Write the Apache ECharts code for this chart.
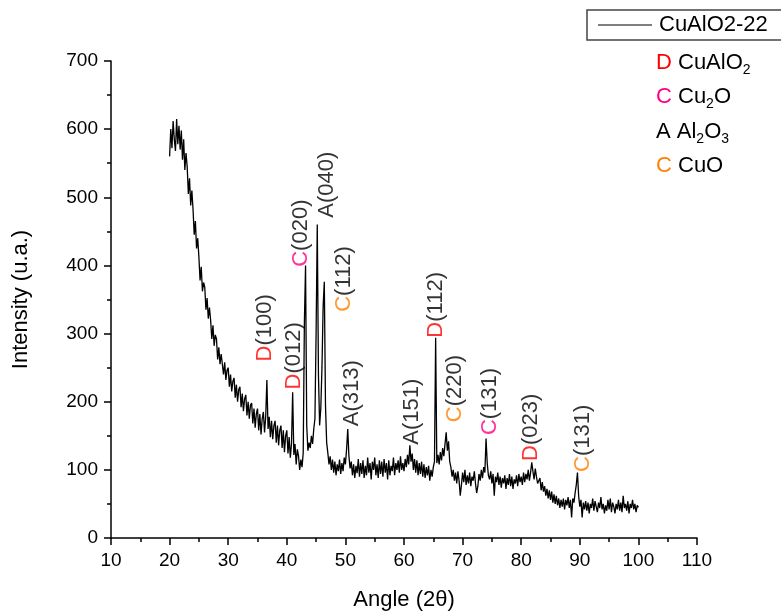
<!DOCTYPE html>
<html>
<head>
<meta charset="utf-8">
<script src="https://cdn.jsdelivr.net/npm/echarts@6/dist/echarts.min.js"></script>
<style>
html,body{margin:0;padding:0;background:#fff;overflow:hidden;}
#chart{width:781px;height:616px;}
</style>
</head>
<body>
<div id="chart"></div>
<script>
// Sampling grid of the measured pattern (degrees 2-theta)
const angleStart = 20;
const angleStep = 0.2;
// Intensity, 5 samples per degree from 20 to 100
const intensity = [
  560, 600, 572, 612, 585,   // 20
  568, 615, 578, 605, 570,   // 21
  598, 555, 585, 540, 565,   // 22
  545, 505, 528, 488, 510,   // 23
  482, 445, 465, 425, 440,   // 24
  412, 378, 398, 362, 375,   // 25
  368, 335, 352, 322, 338,   // 26
  320, 292, 312, 282, 298,   // 27
  292, 262, 280, 255, 270,   // 28
  268, 240, 258, 232, 246,   // 29
  250, 222, 240, 215, 230,   // 30
  235, 206, 225, 200, 218,   // 31
  222, 192, 212, 186, 204,   // 32
  210, 180, 200, 175, 195,   // 33
  198, 168, 190, 162, 182,   // 34
  190, 158, 182, 152, 175,   // 35
  185, 155, 178, 232, 160,   // 36
  178, 148, 172, 145, 165,   // 37
  172, 140, 165, 136, 158,   // 38
  165, 132, 158, 126, 150,   // 39
  158, 124, 148, 118, 138,   // 40
  214, 122, 138, 108, 130,   // 41
  120, 100, 115, 104, 125,   // 42
  316, 400, 165, 128, 140,   // 43
  132, 150, 138, 160, 175,   // 44
  300, 460, 240, 165, 190,   // 45
  250, 340, 376, 195, 140,   // 46
  125, 108, 120, 100, 115,   // 47
  96, 112, 92, 108, 98,      // 48
  115, 94, 110, 98, 118,     // 49
  108, 130, 160, 120, 102,   // 50
  112, 92, 108, 88, 106,     // 51
  95, 116, 90, 110, 94,      // 52
  114, 88, 106, 92, 118,     // 53
  96, 110, 86, 112, 100,     // 54
  118, 92, 108, 88, 114,     // 55
  94, 112, 90, 116, 96,      // 56
  110, 86, 114, 92, 106,     // 57
  98, 118, 92, 110, 100,     // 58
  114, 96, 120, 100, 110,    // 59
  98, 116, 104, 122, 108,    // 60
  136, 112, 124, 100, 116,   // 61
  96, 114, 92, 110, 94,      // 62
  112, 90, 108, 88, 104,     // 63
  92, 106, 84, 100, 90,      // 64
  104, 112, 294, 110, 122,   // 65
  108, 126, 114, 132, 120,   // 66
  138, 155, 128, 142, 112,   // 67
  104, 90, 100, 84, 96,      // 68
  80, 98, 84, 62, 78,        // 69
  96, 82, 100, 78, 92,       // 70
  80, 96, 76, 90, 84,        // 71
  98, 80, 66, 76, 94,        // 72
  84, 100, 88, 104, 96,      // 73
  146, 110, 92, 86, 98,      // 74
  80, 94, 62, 90, 82,        // 75
  96, 78, 90, 74, 88,        // 76
  80, 92, 72, 88, 78,        // 77
  94, 76, 90, 72, 86,        // 78
  80, 92, 76, 94, 82,        // 79
  90, 78, 96, 82, 94,        // 80
  86, 100, 84, 96, 111,      // 81
  98, 86, 102, 90, 80,       // 82
  78, 88, 70, 82, 68,        // 83
  76, 62, 72, 58, 70,        // 84
  56, 68, 52, 64, 50,        // 85
  62, 48, 58, 44, 56,        // 86
  46, 58, 42, 56, 48,        // 87
  60, 44, 56, 30, 58,        // 88
  52, 66, 78, 96, 62,        // 89
  46, 56, 30, 52, 42,        // 90
  54, 40, 52, 36, 50,        // 91
  44, 58, 40, 54, 46,        // 92
  38, 52, 44, 60, 42,        // 93
  50, 36, 48, 40, 56,        // 94
  42, 58, 38, 52, 46,        // 95
  36, 50, 42, 56, 40,        // 96
  52, 38, 62, 44, 50,        // 97
  40, 54, 36, 50, 44,        // 98
  56, 42, 50, 38, 48,        // 99
  45                         // 100
];

// Peak annotations: text centre angle, bottom of text (intensity), phase letter, hkl, colour key
const annotAngles  = [36.3, 41.2, 42.4, 46.8, 49.8, 51.1, 61.4, 65.5, 68.7, 74.7, 81.7, 90.5];
const annotBottoms = [259, 218, 398, 470, 332, 164, 137, 294, 170, 151, 113, 97];
const annotLetters = ['D', 'D', 'C', 'A', 'C', 'A', 'A', 'D', 'C', 'C', 'D', 'C'];
const annotHkl     = ['(100)', '(012)', '(020)', '(040)', '(112)', '(313)', '(151)', '(112)', '(220)', '(131)', '(023)', '(131)'];
const annotColor   = ['r', 'r', 'p', 'k', 'o', 'k', 'k', 'r', 'o', 'p', 'r', 'o'];

// Axis ticks
const xTicks = {min: 10, max: 110, interval: 10};
const yTicks = {min: 0, max: 700, interval: 100};

const seriesName = 'CuAlO2-22';
const FONT = '"Liberation Sans", Arial, sans-serif';
const colors = {r: '#FF0000', p: '#FF0080', o: '#FF8000', k: '#000000'};

const lineData = intensity.map((v, i) => [+(angleStart + i * angleStep).toFixed(2), v]);
const annotData = annotAngles.map((a, i) => ({
  value: [a, annotBottoms[i]],
  label: {formatter: '{' + annotColor[i] + '|' + annotLetters[i] + '}' + annotHkl[i]}
}));

const richLetters = {};
Object.keys(colors).forEach(k => { richLetters[k] = {color: colors[k], fontSize: 22, fontFamily: FONT}; });

const chart = echarts.init(document.getElementById('chart'), null, {renderer: 'canvas'});

const tok = (c) => ({fill: c, fontSize: 22, fontFamily: FONT, lineHeight: 26, verticalAlign: 'bottom'});
const legendRich = {
  r: tok(colors.r),
  p: tok(colors.p),
  o: tok(colors.o),
  k: tok('#000'),
  sub: {fill: '#000', fontSize: 14, fontFamily: FONT, lineHeight: 14, verticalAlign: 'bottom', padding: [0, 0, -3, 0]}
};

const phaseLegend = [
  {text: '{r|D} {k|CuAlO}{sub|2}', y: 50},
  {text: '{p|C} {k|Cu}{sub|2}{k|O}', y: 84},
  {text: '{k|A} {k|Al}{sub|2}{k|O}{sub|3}', y: 119},
  {text: '{o|C} {k|CuO}', y: 153}
];

const graphics = phaseLegend.map(p => ({
  type: 'text', left: 656, top: p.y, silent: true,
  style: {text: p.text, rich: legendRich, fontSize: 22, fontFamily: FONT, fill: '#000'}
}));
// Legend frame, open on the right because it runs off the edge in the reference
graphics.push({
  type: 'polyline', silent: true, z: 10,
  shape: {points: [[840, 10], [587, 10], [587, 40], [840, 40]]},
  style: {fill: 'none', stroke: '#444', lineWidth: 1.5}
});

chart.setOption({
  animation: false,
  backgroundColor: '#fff',
  textStyle: {fontFamily: FONT},
  grid: {left: 111, right: 84, top: 61, bottom: 77, containLabel: false},
  legend: {
    data: [{name: seriesName, icon: 'rect'}],
    left: 587, top: 11,
    padding: [3, 5, 3, 11],
    borderWidth: 0, backgroundColor: 'transparent',
    itemWidth: 54, itemHeight: 1,
    itemStyle: {color: '#000'},
    textStyle: {fontSize: 22, color: '#000', fontFamily: FONT, padding: [0, 0, 0, 2]},
    selectedMode: false
  },
  xAxis: {
    type: 'value', min: xTicks.min, max: xTicks.max, interval: xTicks.interval,
    name: 'Angle (2θ)', nameLocation: 'middle', nameGap: 51,
    nameTextStyle: {fontSize: 22, color: '#000', fontFamily: FONT},
    axisLine: {show: true, onZero: false, lineStyle: {color: '#000', width: 1.5}},
    axisTick: {show: true, inside: false, length: 7, lineStyle: {color: '#000', width: 1.5}},
    minorTick: {show: true, splitNumber: 2, length: 4, lineStyle: {color: '#000', width: 1.5}},
    axisLabel: {fontSize: 19, color: '#000', margin: 13, fontFamily: FONT},
    splitLine: {show: false}
  },
  yAxis: {
    type: 'value', min: yTicks.min, max: yTicks.max, interval: yTicks.interval,
    name: 'Intensity (u.a.)', nameLocation: 'middle', nameGap: 79,
    nameTextStyle: {fontSize: 22, color: '#000', fontFamily: FONT},
    axisLine: {show: true, onZero: false, lineStyle: {color: '#000', width: 1.5}},
    axisTick: {show: true, inside: false, length: 7, lineStyle: {color: '#000', width: 1.5}},
    minorTick: {show: true, splitNumber: 2, length: 4, lineStyle: {color: '#000', width: 1.5}},
    axisLabel: {fontSize: 19, color: '#000', margin: 13, fontFamily: FONT},
    splitLine: {show: false}
  },
  series: [
    {
      name: seriesName, type: 'line', data: lineData,
      symbol: 'none', showSymbol: false,
      lineStyle: {color: '#000', width: 1.3},
      itemStyle: {color: '#000'},
      silent: true
    },
    {
      name: 'annotations', type: 'scatter', data: annotData,
      symbolSize: 1, itemStyle: {color: 'rgba(0,0,0,0)'},
      silent: true,
      label: {
        show: true, position: 'inside', rotate: 90,
        align: 'left', verticalAlign: 'middle',
        fontSize: 22, color: '#000', fontFamily: FONT,
        rich: richLetters
      }
    }
  ],
  graphic: graphics
});
</script>
</body>
</html>
